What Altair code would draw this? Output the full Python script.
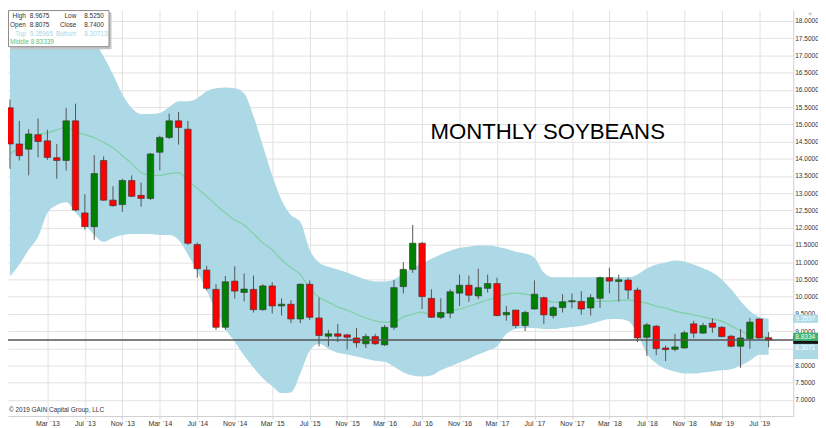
import altair as alt
import pandas as pd

# ---------------- data (monthly, Nov 2012 .. Aug 2019) ----------------
opens = [15.48, 14.43, 14.28, 14.70, 14.52, 14.03, 13.95, 15.10, 12.43, 12.03,
         13.95, 12.80, 12.67, 13.37, 12.94, 12.85, 14.19, 14.62, 15.10, 14.86,
         11.51, 10.77, 10.21, 9.11, 10.45, 10.12, 10.21, 9.62, 10.31, 9.73,
         9.78, 9.35, 10.36, 9.38, 8.85, 8.92, 8.89, 8.80, 8.63, 8.84,
         8.60, 9.11, 10.29, 10.79, 11.55, 9.95, 9.40, 9.52, 10.10, 10.33,
         10.02, 10.24, 10.38, 9.47, 9.61, 9.16, 9.64, 9.97, 9.45, 9.68,
         9.85, 9.86, 9.67, 9.95, 10.55, 10.44, 10.48, 10.19, 8.82, 9.14,
         8.51, 8.47, 8.51, 9.21, 8.94, 9.23, 9.11, 8.85, 8.56, 8.78,
         9.35, 8.8075]
highs = [15.72, 15.10, 14.86, 15.17, 14.84, 14.43, 15.48, 15.60, 12.97, 14.11,
         14.07, 13.20, 13.42, 13.52, 13.31, 14.17, 14.67, 15.31, 15.36, 15.10,
         11.57, 10.89, 10.36, 10.60, 10.88, 10.67, 10.61, 10.36, 10.42, 9.95,
         9.90, 10.38, 10.47, 9.97, 9.03, 9.21, 8.92, 9.09, 8.92, 8.92,
         9.18, 10.48, 11.00, 12.08, 11.58, 10.21, 9.95, 10.21, 10.64, 10.61,
         10.81, 10.64, 10.55, 9.73, 9.61, 9.59, 10.47, 10.00, 9.73, 10.07,
         10.09, 10.16, 10.07, 10.58, 10.84, 10.64, 10.55, 10.26, 9.24, 9.18,
         8.58, 8.92, 9.01, 9.30, 9.24, 9.37, 9.14, 8.89, 9.06, 9.38,
         9.37, 8.9675]
lows = [13.71, 13.95, 13.52, 14.04, 13.97, 13.42, 13.66, 12.48, 11.94, 11.65,
        12.78, 12.61, 12.46, 12.89, 12.61, 12.80, 13.66, 14.57, 14.41, 11.50,
        10.55, 10.18, 9.03, 9.03, 9.94, 9.86, 9.54, 9.59, 9.51, 9.45,
        9.23, 9.23, 9.32, 8.56, 8.56, 8.68, 8.46, 8.52, 8.51, 8.60,
        8.57, 9.04, 10.09, 10.69, 9.64, 9.38, 9.35, 9.37, 9.73, 9.85,
        9.93, 10.12, 9.43, 9.30, 9.09, 9.00, 9.62, 9.21, 9.37, 9.54,
        9.66, 9.47, 9.45, 9.67, 10.09, 9.85, 9.93, 8.68, 8.28, 8.30,
        8.13, 8.41, 8.49, 8.80, 8.92, 8.95, 8.82, 8.53, 7.93, 8.49,
        8.78, 8.525]
closes = [14.43, 14.09, 14.72, 14.50, 14.04, 13.95, 15.10, 12.51, 12.03, 13.57,
          12.80, 12.64, 13.37, 12.91, 12.85, 14.14, 14.62, 15.10, 14.91, 11.55,
          10.81, 10.24, 9.11, 10.43, 10.16, 10.22, 9.62, 10.31, 9.73, 9.78,
          9.35, 10.36, 9.40, 8.87, 8.92, 8.85, 8.82, 8.66, 8.84, 8.63,
          9.11, 10.26, 10.79, 11.55, 10.00, 9.40, 9.54, 10.14, 10.33, 10.04,
          10.26, 10.38, 9.45, 9.54, 9.16, 9.54, 10.07, 9.47, 9.68, 9.85,
          9.88, 9.64, 9.97, 10.55, 10.45, 10.49, 10.19, 8.80, 9.18, 8.49,
          8.46, 8.54, 8.95, 8.94, 9.16, 9.11, 8.84, 8.56, 8.80, 9.26,
          8.80, 8.74]
upper = [17.40, 17.40, 17.40, 17.40, 17.40, 17.40, 17.40, 17.40, 17.40, 17.37,
         16.97, 16.45, 15.87, 15.47, 15.30, 15.30, 15.33, 15.50, 15.67, 15.67,
         15.76, 15.96, 16.05, 16.07, 16.05, 15.90, 15.24, 14.38, 13.52, 12.80,
         12.37, 12.17, 11.36, 10.99, 10.87, 10.79, 10.70, 10.59, 10.50, 10.44,
         10.44, 10.50, 10.67, 10.84, 10.96, 11.10, 11.22, 11.33, 11.42, 11.45,
         11.48, 11.48, 11.45, 11.39, 11.30, 11.25, 11.13, 10.70, 10.56, 10.56,
         10.56, 10.56, 10.56, 10.56, 10.56, 10.56, 10.56, 10.64, 10.82, 10.93,
         10.99, 11.05, 11.02, 10.93, 10.82, 10.70, 10.50, 10.21, 9.87, 9.58,
         9.41, 9.35965]
middle = [14.15, 14.32, 14.52, 14.70, 14.75, 14.84, 14.90, 14.78, 14.70, 14.61,
          14.47, 14.32, 14.09, 13.86, 13.60, 13.52, 13.52, 13.57, 13.60, 13.37,
          13.14, 12.91, 12.66, 12.43, 12.22, 12.08, 11.82, 11.56, 11.36, 11.07,
          10.84, 10.64, 10.24, 9.98, 9.84, 9.70, 9.61, 9.49, 9.38, 9.29,
          9.26, 9.26, 9.41, 9.49, 9.55, 9.47, 9.47, 9.58, 9.64, 9.72,
          9.81, 9.90, 9.98, 10.07, 10.10, 10.07, 10.01, 9.93, 9.84, 9.84,
          9.87, 9.84, 9.84, 9.87, 9.87, 9.90, 9.90, 9.87, 9.81, 9.72,
          9.67, 9.58, 9.52, 9.47, 9.41, 9.35, 9.29, 9.15, 9.01, 8.89,
          8.83, 8.83339]
lower = [10.59, 10.93, 11.36, 11.74, 12.43, 12.66, 12.74, 12.45, 12.11, 11.79,
         11.59, 11.71, 11.79, 11.82, 11.82, 11.82, 11.79, 11.79, 11.65, 11.22,
         10.73, 10.18, 9.58, 9.06, 8.69, 8.29, 7.94, 7.63, 7.40, 7.20,
         7.22, 7.77, 8.43, 8.63, 8.49, 8.37, 8.32, 8.26, 8.20, 8.14,
         8.11, 7.97, 7.80, 7.71, 7.68, 7.71, 7.86, 7.97, 8.09, 8.20,
         8.32, 8.43, 8.55, 8.92, 9.06, 9.09, 9.09, 9.06, 9.06, 9.09,
         9.12, 9.15, 9.21, 9.29, 9.35, 9.35, 9.29, 8.92, 8.35, 8.06,
         7.91, 7.83, 7.77, 7.77, 7.80, 7.83, 7.86, 7.89, 8.00, 8.14,
         8.31, 8.30713]

tick_labels = ["Mar `13", "Jul `13", "Nov `13", "Mar `14", "Jul `14", "Nov `14",
               "Mar `15", "Jul `15", "Nov `15", "Mar `16", "Jul `16", "Nov `16",
               "Mar `17", "Jul `17", "Nov `17", "Mar `18", "Jul `18", "Nov `18",
               "Mar `19", "Jul `19"]
title_text = "MONTHLY SOYBEANS"
copyright_text = "© 2019 GAIN Capital Group, LLC"

# ---------------- tables ----------------
n = len(opens)
df = pd.DataFrame({"k": list(range(n)), "open": opens, "high": highs, "low": lows,
                   "close": closes, "upper": upper, "middle": middle, "lower": lower})

W, H = 793, 410
x_scale = alt.Scale(domain=[0.32, 83.1], nice=False, zero=False)
y_scale = alt.Scale(domain=[6.534, 18.316], nice=False, zero=False)

tick_pos = [4 * (i + 1) for i in range(len(tick_labels))]
label_js = "[" + ",".join("'" + s + "'" for s in tick_labels) + "][round(datum.value/4)-1]"
y_ticks = [7 + 0.5 * i for i in range(23)]

x_axis = alt.Axis(values=tick_pos, labelExpr=label_js, grid=True, gridColor="#e2e2e2",
                  gridWidth=1, domainColor="#cfcfcf", tickColor="#cfcfcf", tickSize=3,
                  labelFontSize=7, labelColor="#333333", labelFont="Liberation Sans",
                  labelPadding=1, labelFlush=False, title=None)
y_axis = alt.Axis(orient="right", values=y_ticks, format=".4f", grid=True,
                  gridColor="#e2e2e2", gridWidth=1, domainColor="#cfcfcf", ticks=False,
                  labelFontSize=6.6, labelColor="#333333", labelFont="Liberation Sans",
                  labelPadding=1.5, labelFlush=False, title=None)

X = alt.X("k:Q", scale=x_scale, axis=x_axis)


def Y(field):
    return alt.Y(field, type="quantitative", scale=y_scale, axis=y_axis)


base = alt.Chart(df)

band = base.mark_area(color="#add8e6", interpolate="monotone", clip=True).encode(
    x=X, y=Y("upper"), y2="lower:Q")
mid_line = base.mark_line(color="#7fd0a3", strokeWidth=1.2, interpolate="monotone",
                          clip=True).encode(x=X, y=Y("middle"))
wicks = base.mark_rule(color="#555555", strokeWidth=1, clip=True).encode(
    x=X, y=Y("low"), y2="high:Q")
bodies = base.mark_bar(size=6.5, stroke="#333333", strokeWidth=0.6, clip=True).encode(
    x=X, y=Y("open"), y2="close:Q",
    fill=alt.condition("datum.close >= datum.open", alt.value("#008000"), alt.value("#ff0000")))

last = pd.DataFrame({"close": [closes[-1]], "upper": [upper[-1]],
                     "middle": [middle[-1]], "lower": [lower[-1]]})
close_line = alt.Chart(last).mark_rule(color="#555555", strokeWidth=1.5).encode(y=Y("close"))


def value_box(field, fill, text_color, dy, show_text=True):
    c = alt.Chart(last).transform_calculate(
        top="datum." + field + " + 0.12", bot="datum." + field + " - 0.12",
        lab="format(datum." + field + ", '.4f')")
    box = c.mark_rect(color=fill, yOffset=dy, clip=False).encode(
        x=alt.value(W), x2=alt.value(W + 25), y=Y("top"), y2="bot:Q")
    if not show_text:
        return box
    txt = c.mark_text(color=text_color, fontSize=6.6, font="Liberation Sans", align="left",
                      baseline="middle", dx=2, dy=dy, clip=False).encode(
        x=alt.value(W), y=Y(field), text="lab:N")
    return box + txt


lbl_close = value_box("close", "#111111", "#111111", 0, show_text=False)
lbl_mid = value_box("middle", "#3cb371", "#ffffff", 0)
lbl_up = value_box("upper", "#add8e6", "#ffffff", 0)
lbl_low = value_box("lower", "#add8e6", "#ffffff", -7)

one = pd.DataFrame({"a": [0]})


def pixel_text(text, x, y, size, color, align="left", font="Liberation Sans"):
    return alt.Chart(pd.DataFrame({"t": [text]})).mark_text(
        font=font, fontSize=size, color=color, align=align, baseline="middle").encode(
        x=alt.value(x), y=alt.value(y), text="t:N")


title_mark = pixel_text(title_text, 545, 123, 22.4, "#000000", align="center")
copy_mark = pixel_text(copyright_text, 1, 404, 6.5, "#333333")

# info box
box_shadow = alt.Chart(one).mark_rect(color="#c4c4c4").encode(
    x=alt.value(2.5), x2=alt.value(104.5), y=alt.value(2.5), y2=alt.value(39.5))
box_rect = alt.Chart(one).mark_rect(fill="#ffffff", stroke="#8a8a8a", strokeWidth=1).encode(
    x=alt.value(0.5), x2=alt.value(102), y=alt.value(0.5), y2=alt.value(37))

info_rows = [
    ("High", format(highs[-1], ".4f"), "Low", format(lows[-1], ".4f"), "#333333"),
    ("Open", format(opens[-1], ".4f"), "Close", format(closes[-1], ".4f"), "#333333"),
    ("Top", format(upper[-1], ".5f"), "Bottom", format(lower[-1], ".5f"), "#a9d6e6"),
]
row_px = [6, 15, 24]
info_layers = []
for (l1, v1, l2, v2, col), ry in zip(info_rows, row_px):
    info_layers.append(pixel_text(l1, 18, ry, 6.5, col, align="right"))
    info_layers.append(pixel_text(v1, 22, ry, 6.5, col))
    info_layers.append(pixel_text(l2, 69, ry, 6.5, col, align="right"))
    info_layers.append(pixel_text(v2, 77, ry, 6.5, col))
mid_txt = pixel_text("Middle " + format(middle[-1], ".5f"), 2, 32, 6.5, "#5cbf7f")

icon = pixel_text("«", W + 17, 3.5, 7, "#8090b0", align="center", font="DejaVu Sans")

chart = alt.layer(
    band, mid_line, wicks, bodies, close_line,
    lbl_close, lbl_mid, lbl_up, lbl_low,
    title_mark, copy_mark, box_shadow, box_rect, *info_layers, mid_txt, icon,
).properties(
    width=W, height=H,
    autosize=alt.AutoSizeParams(type="none"),
    padding={"left": 0, "top": 0, "right": 25, "bottom": 10},
).configure_view(stroke=None)

chart.save("out.html", embed_options={"renderer": "svg", "actions": False})
